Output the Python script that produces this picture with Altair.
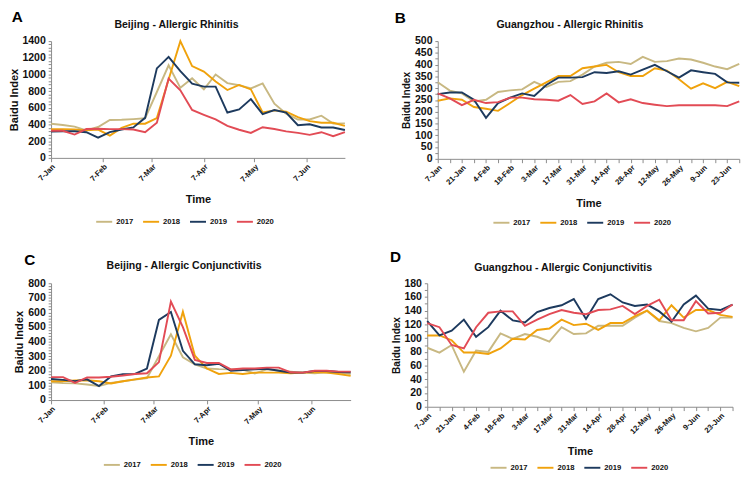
import altair as alt
import pandas as pd

FONT = "Liberation Sans"

dates = pd.date_range("2020-01-07", periods=26, freq="7D").strftime("%Y-%m-%dT00:00:00").tolist()
years = ["2017", "2018", "2019", "2020"]
colors = ["#C8B882", "#F0A20C", "#1D3A5E", "#E24B55"]

# Panel A: Beijing - Allergic Rhinitis
bj_ar_2017 = [410, 395, 375, 330, 370, 455, 458, 465, 475, 790, 1110, 840, 955, 821, 1000, 897, 871, 833, 893, 650, 530, 460, 460, 506, 411, 414]
bj_ar_2018 = [345, 345, 340, 330, 340, 268, 360, 410, 410, 478, 940, 1400, 1100, 1035, 915, 814, 875, 821, 544, 570, 555, 490, 441, 422, 422, 384]
bj_ar_2019 = [315, 320, 320, 308, 243, 310, 340, 365, 480, 1073, 1212, 1040, 890, 855, 855, 544, 582, 705, 525, 574, 544, 392, 403, 365, 365, 335]
bj_ar_2020 = [325, 325, 280, 346, 350, 345, 345, 340, 308, 422, 952, 810, 575, 517, 462, 384, 338, 300, 368, 346, 318, 300, 276, 308, 260, 308]

# Panel B: Guangzhou - Allergic Rhinitis
gz_ar_2017 = [325, 290, 278, 244, 251, 284, 291, 295, 327, 305, 327, 330, 358, 392, 408, 412, 403, 433, 412, 415, 426, 422, 408, 392, 381, 403]
gz_ar_2018 = [247, 257, 251, 220, 213, 204, 237, 271, 298, 325, 352, 352, 385, 392, 399, 368, 352, 352, 385, 375, 338, 298, 321, 300, 327, 309]
gz_ar_2019 = [275, 282, 282, 251, 174, 237, 260, 278, 267, 314, 345, 345, 347, 368, 365, 372, 358, 379, 399, 372, 345, 376, 368, 361, 325, 323]
gz_ar_2020 = [278, 257, 228, 251, 237, 241, 260, 260, 253, 251, 247, 271, 233, 244, 278, 240, 253, 237, 230, 224, 228, 228, 228, 228, 224, 244]

# Panel C: Beijing - Allergic Conjunctivitis
bj_ac_2017 = [122, 116, 114, 107, 96, 118, 129, 140, 151, 300, 450, 293, 245, 216, 212, 210, 208, 182, 210, 203, 195, 188, 184, 190, 188, 179]
bj_ac_2018 = [129, 129, 134, 136, 129, 114, 129, 142, 155, 162, 304, 605, 304, 216, 179, 186, 179, 188, 188, 188, 184, 188, 192, 188, 179, 166]
bj_ac_2019 = [144, 138, 130, 142, 96, 162, 177, 179, 216, 549, 603, 337, 245, 238, 249, 201, 205, 210, 214, 201, 188, 188, 199, 199, 192, 190]
bj_ac_2020 = [157, 157, 118, 155, 155, 160, 168, 179, 184, 260, 675, 500, 275, 254, 254, 210, 216, 216, 222, 222, 190, 188, 201, 201, 195, 195]

# Panel D: Guangzhou - Allergic Conjunctivitis
gz_ac_2017 = [86, 79, 90, 51, 82, 80, 107, 99, 106, 102, 95, 116, 106, 107, 118, 118, 118, 130, 140, 125, 122, 115, 110, 115, 130, 130]
gz_ac_2018 = [104, 104, 97, 79, 79, 77, 85, 99, 98, 112, 114, 127, 119, 121, 112, 122, 122, 132, 140, 126, 148, 130, 141, 141, 134, 131]
gz_ac_2019 = [125, 104, 111, 127, 102, 116, 140, 126, 123, 138, 144, 148, 157, 128, 157, 164, 152, 147, 149, 139, 124, 149, 162, 143, 141, 149]
gz_ac_2020 = [122, 116, 90, 85, 116, 137, 139, 139, 118, 127, 135, 141, 137, 135, 141, 142, 147, 135, 147, 156, 126, 126, 154, 136, 137, 149]

monthly_ticks = [alt.DateTime(year=2020, month=m, date=7) for m in range(1, 7)]
weekly_ticks = [alt.DateTime(year=2020, month=d.month, date=d.day)
                for d in pd.date_range("2020-01-07", periods=26, freq="7D")]
biweekly_labels = ["7-Jan", "21-Jan", "4-Feb", "18-Feb", "3-Mar", "17-Mar", "31-Mar",
                   "14-Apr", "28-Apr", "12-May", "26-May", "9-Jun", "23-Jun"]


def panel(letter, title, series, ymax, ymajor, yminor, weekly, w, h,
          letter_x, letter_y, title_x, title_y, legend_x, legend_y, ytitle_size):
    rows = []
    for yr, vals in zip(years, series):
        for d, v in zip(dates, vals):
            rows.append({"date": d, "year": yr, "value": v})
    df = pd.DataFrame(rows)

    common_x = dict(format="%-d-%b", labelAngle=-45,
                    labelFontSize=8, labelFontWeight="bold", labelFont=FONT, labelColor="#111",
                    labelPadding=1, tickSize=4, labelOverlap=False, labelFlush=False,
                    titleFontSize=11.5, titleFontWeight="bold", titleFont=FONT, titleColor="#111",
                    titlePadding=11, domainColor="#888", tickColor="#888", grid=False)
    if weekly:
        label_list = "[" + ",".join("'" + s + "'" for s in biweekly_labels) + "]"
        x_axis = alt.Axis(values=weekly_ticks,
                          labelExpr="indexof(" + label_list + ", datum.label) >= 0 ? datum.label : ''",
                          **common_x)
    else:
        x_axis = alt.Axis(values=monthly_ticks, **common_x)

    y_axis = alt.Axis(values=list(range(0, ymax + 1, yminor)), format="d",
                      labelExpr="datum.value % " + str(ymajor) + " == 0 ? datum.label : ''",
                      labelFontSize=11, labelFontWeight="bold", labelFont=FONT, labelColor="#111",
                      labelPadding=3, tickSize=3, labelOverlap=False, labelFlush=False,
                      titleFontSize=ytitle_size, titleFontWeight="bold", titleFont=FONT, titleColor="#111",
                      titlePadding=3, domainColor="#888", tickColor="#888", grid=False)

    lines = alt.Chart(df).mark_line(strokeWidth=2).encode(
        x=alt.X("date:T", title="Time", axis=x_axis,
                scale=alt.Scale(domain=[alt.DateTime(year=2020, month=1, date=7),
                                        alt.DateTime(year=2020, month=6, date=30)], nice=False)),
        y=alt.Y("value:Q", title="Baidu Index", axis=y_axis,
                scale=alt.Scale(domain=[0, ymax], nice=False)),
        color=alt.Color("year:N", scale=alt.Scale(domain=years, range=colors),
                        legend=alt.Legend(title=None, orient="none", legendX=legend_x, legendY=legend_y,
                                          direction="horizontal", columns=4, symbolType="stroke",
                                          symbolStrokeWidth=2, symbolSize=280, labelFontSize=8,
                                          labelFont=FONT, labelFontWeight="bold", labelColor="#111",
                                          labelOffset=3, columnPadding=6, padding=0)),
    )
    letter_mark = alt.Chart(pd.DataFrame({"t": [letter]})).mark_text(
        align="left", baseline="top", fontSize=16, fontWeight="bold", font=FONT, color="#000"
    ).encode(text="t:N", x=alt.value(letter_x), y=alt.value(letter_y))
    title_mark = alt.Chart(pd.DataFrame({"t": [title]})).mark_text(
        align="center", baseline="alphabetic", fontSize=11, fontWeight="bold", font=FONT, color="#111"
    ).encode(text="t:N", x=alt.value(title_x), y=alt.value(title_y))

    return alt.layer(lines, letter_mark, title_mark).properties(width=w, height=h)


pA = panel("A", "Beijing - Allergic Rhinitis", [bj_ar_2017, bj_ar_2018, bj_ar_2019, bj_ar_2020],
           1400, 200, 40, False, 307, 122, -41, -33, 131, -14, 46, 179, 11.5)
pB = panel("B", "Guangzhou - Allergic Rhinitis", [gz_ar_2017, gz_ar_2018, gz_ar_2019, gz_ar_2020],
           500, 50, 25, True, 315, 123, -45, -32, 138, -14, 57, 180, 10.5)
pC = panel("C", "Beijing - Allergic Conjunctivitis", [bj_ac_2017, bj_ac_2018, bj_ac_2019, bj_ac_2020],
           800, 100, 20, False, 313, 122, -28, -32, 139, -15, 54, 180, 11.5)
pD = panel("D", "Guangzhou - Allergic Conjunctivitis", [gz_ac_2017, gz_ac_2018, gz_ac_2019, gz_ac_2020],
           180, 20, 10, True, 319, 129, -39, -35, 142, -13, 65, 183, 10.5)

row1 = alt.hconcat(pA, pB, spacing=48).resolve_scale(color="independent")
row2 = alt.hconcat(pC, pD, spacing=37).resolve_scale(color="independent")
chart = alt.vconcat(row1, row2, spacing=24).resolve_scale(color="independent").properties(
    padding={"left": 0, "top": -9, "right": 0, "bottom": 0}, background="white"
).configure_view(stroke=None)

chart.save("out.html", embed_options={"renderer": "svg", "actions": False})
